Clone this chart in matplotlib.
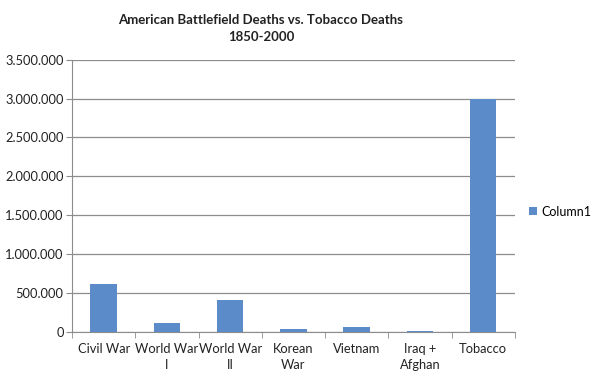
import matplotlib.pyplot as plt
from matplotlib.ticker import FuncFormatter, MultipleLocator, FixedLocator

categories = ["Civil War", "World War\nI", "World War\nII", "Korean\nWar",
              "Vietnam", "Iraq +\nAfghan", "Tobacco"]
deaths = [620000, 117000, 405000, 36500, 58000, 6800, 3000000]
series_name = "Column1"

plt.rcParams['font.family'] = ['Lato', 'DejaVu Sans']

fig = plt.figure(figsize=(6, 3.78), dpi=100)
ax = fig.add_axes([0.12, 0.122, 0.738, 0.72])

x = list(range(len(categories)))
ax.bar(x, deaths, width=0.42, color='#5B8CC9', label=series_name, zorder=3)

ax.set_xlim(-0.5, len(categories) - 0.5)
ax.set_ylim(0, 3500000)
ax.yaxis.set_major_locator(MultipleLocator(500000))
ax.yaxis.set_major_formatter(FuncFormatter(lambda v, p: f"{int(v):,}".replace(",", ".")))
ax.grid(axis='y', color='#8c8c8c', linewidth=0.9, zorder=0)

ax.set_xticks(x)
ax.set_xticklabels(categories, fontsize=9.3, color='#222222', linespacing=1.45)
ax.xaxis.set_minor_locator(FixedLocator([i + 0.5 for i in range(-1, len(categories))]))
ax.tick_params(axis='x', which='major', length=0, pad=8)
ax.tick_params(axis='x', which='minor', length=4, color='#8c8c8c')
ax.tick_params(axis='y', length=4, color='#8c8c8c', labelsize=9.3, labelcolor='#222222', pad=2)

for s in ['top', 'right']:
    ax.spines[s].set_visible(False)
for s in ['left', 'bottom']:
    ax.spines[s].set_color('#8c8c8c')

fig.text(0.435, 0.925, "American Battlefield Deaths vs. Tobacco Deaths\n1850-2000",
         ha='center', va='center', fontsize=9.5, fontweight='bold',
         color='#222222', linespacing=1.5)

fig.legend(loc='center left', bbox_to_anchor=(0.878, 0.44), frameon=False,
           fontsize=9, handlelength=0.6, handleheight=0.6, handletextpad=0.35,
           borderaxespad=0, borderpad=0.2)

fig.savefig("out.png", dpi=100)
